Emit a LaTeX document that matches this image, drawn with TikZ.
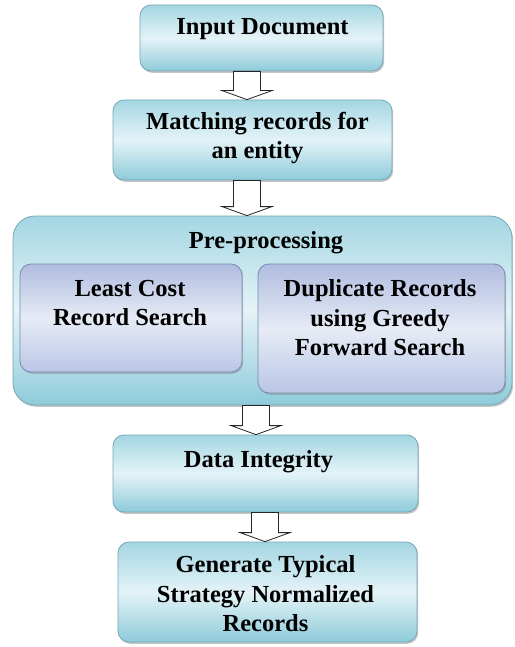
\documentclass[tikz,border=0pt]{standalone}
\usepackage{fontspec}
\setmainfont{Liberation Serif}[BoldFont={Liberation Serif Bold}]
\usetikzlibrary{calc,shadows}

\definecolor{cyanTop}{RGB}{164,214,227}
\definecolor{cyanMid}{RGB}{228,243,247}
\definecolor{cyanBot}{RGB}{142,203,218}
\definecolor{cyanEdge}{RGB}{120,166,182}
\definecolor{lavTop}{RGB}{176,188,224}
\definecolor{lavMid}{RGB}{230,235,245}
\definecolor{lavBot}{RGB}{186,198,230}
\definecolor{lavEdge}{RGB}{120,138,178}

\tikzset{
  stage/.style={draw=cyanEdge, line width=.8pt, rounded corners=11pt, inner sep=0pt,
    top color=cyanTop, bottom color=cyanBot, middle color=cyanMid,
    drop shadow={shadow xshift=1.2pt, shadow yshift=-1.8pt, fill=black!45, opacity=.5}},
  substage/.style={stage, draw=lavEdge, top color=lavTop, bottom color=lavBot, middle color=lavMid},
  txt/.style={font=\rmfamily\bfseries\fontsize{24.5}{29.5}\selectfont, align=center, inner sep=0pt},
  hollow/.style={draw=black!85, fill=white, line width=.8pt, line join=miter}
}

% hollow block arrow: from node, to node, x of its axis
\newcommand{\hollowarr}[3]{%
  \draw[hollow] let \p1=(#1.south), \p2=(#2.north) in
    ({#3pt-13.5pt},\y1) -- ({#3pt-13.5pt},\y2+9pt) -- ({#3pt-25pt},\y2+9pt)
    -- ({#3pt},\y2) -- ({#3pt+25pt},\y2+9pt) -- ({#3pt+13.5pt},\y2+9pt)
    -- ({#3pt+13.5pt},\y1) -- cycle;}

\begin{document}
\begin{tikzpicture}[x=1pt, y=-1pt]
  \useasboundingbox (0,0) rectangle (514,647);

  \node[stage, minimum width=243pt, minimum height=66pt] (in) at (261.5,38) {};
  \node[txt] (inT) at (262.5,29) {Input Document};

  \node[stage, minimum width=279pt, minimum height=80pt] (match) at (252.5,140) {};
  \node[txt] (matchT) at (257.5,138) {Matching records for\\an entity};

  \node[stage, rounded corners=22pt, minimum width=499pt, minimum height=189pt] (pre) at (262.5,310.5) {};
  \node[txt] (preT) at (266,243) {Pre-processing};

  \node[substage, minimum width=222pt, minimum height=108pt] (lcs) at (131,318) {};
  \node[txt] (lcsT) at (130,303) {Least Cost\\Record Search};

  \node[substage, minimum width=247pt, minimum height=129pt] (dup) at (381.5,328.5) {};
  \node[txt] (dupT) at (380,318) {Duplicate Records\\using Greedy\\Forward Search};

  \node[stage, minimum width=305pt, minimum height=77pt] (di) at (265.5,473.5) {};
  \node[txt] (diT) at (258.5,462) {Data Integrity};

  \node[stage, minimum width=299pt, minimum height=100pt] (gen) at (267.5,592) {};
  \node[txt] (genT) at (265.5,594) {Generate Typical\\Strategy Normalized\\Records};

  \hollowarr{in}{match}{247}
  \hollowarr{match}{pre}{247}
  \hollowarr{pre}{di}{256}
  \hollowarr{di}{gen}{265}
\end{tikzpicture}
\end{document}
